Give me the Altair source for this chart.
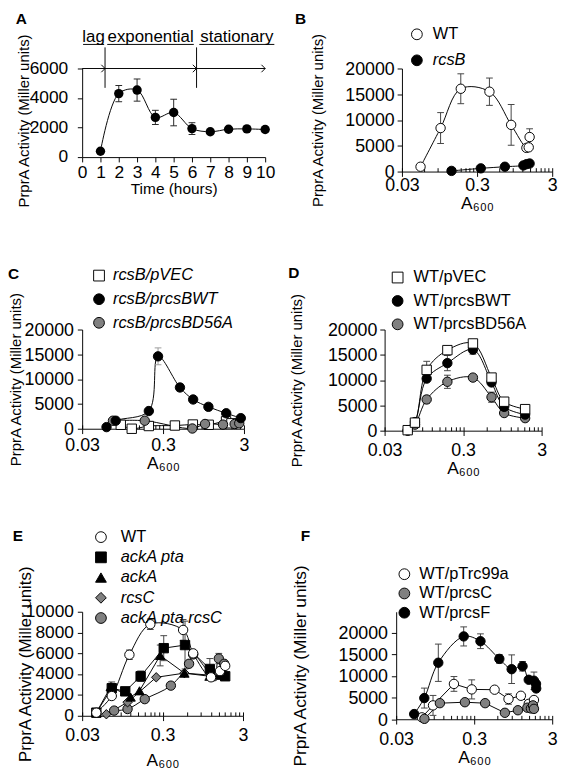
import altair as alt
import pandas as pd

FONT = "Liberation Sans"
Y_TITLE = "PrprA Activity (Miller units)"
A600 = "A₆₀₀"
PANEL_LETTERS = ["A", "B", "C", "D", "E", "F"]

# ---------------- Panel A : time course ----------------
A_time = [1, 2, 3, 4, 5, 6, 7, 8, 9, 10]
A_activity = [400, 4300, 4540, 2690, 3020, 1930, 1720, 1890, 1910, 1870]
A_error = [0, 550, 750, 480, 900, 400, 0, 0, 0, 0]
A_ticks = [0, 1, 2, 3, 4, 5, 6, 7, 8, 9, 10]
A_phase_names = ["lag", "exponential", "stationary"]
A_phase_mid = [0.62, 3.74, 8.45]
A_phase_start = [0.05, 1.37, 6.4]
A_phase_end = [1.2, 6.1, 10.5]
A_phase_breaks = [1.25, 6.25]
A_arrow_tips = [1.25, 6.25, 10]
A_arrow_span = [0, 10]
A_label_level = 7820
A_underline_level = 7630
A_break_range = [4690, 7430]
A_arrow_level = 6000

# ---------------- Panel B ----------------
B_series = ["WT", "rcsB"]
B_WT_x = [0.053, 0.098, 0.182, 0.438, 0.852, 1.36, 1.46, 1.50]
B_WT_y = [940, 8440, 16070, 15500, 9060, 4600, 4700, 6700]
B_WT_err = [0, 3000, 2900, 2650, 3950, 0, 0, 1600]
B_rcsB_x = [0.137, 0.336, 0.703, 1.24, 1.37, 1.50]
B_rcsB_y = [130, 625, 940, 1190, 1440, 1560]

# ---------------- Panel C ----------------
C_series = ["rcsB/pVEC", "rcsB/prcsBWT", "rcsB/prcsBD56A"]
C_pVEC_x = [0.09, 0.123, 0.2, 0.42, 0.7, 1.1, 1.8, 2.1]
C_pVEC_y = [800, 0, 550, 650, 850, 800, 1500, 1100]
C_WT_x = [0.06, 0.078, 0.2, 0.26, 0.485, 0.706, 1.09, 1.81, 2.74]
C_WT_y = [330, 1620, 3570, 14600, 8320, 5900, 4420, 3120, 2140]
C_WT_err = [0, 0, 0, 1700, 700, 0, 0, 0, 0]
C_D56A_x = [0.072, 0.178, 0.69, 0.99, 1.65, 2.3, 2.62]
C_D56A_y = [1620, 1620, 50, 965, 835, 965, 1100]

# ---------------- Panel D ----------------
D_series = ["WT/pVEC", "WT/prcsBWT", "WT/prcsBD56A"]
D_x = [0.059, 0.073, 0.103, 0.189, 0.40, 0.69, 1.0, 1.85]
D_pVEC_y = [100, 1590, 12020, 15930, 17250, 10500, 5730, 4260]
D_pVEC_err = [0, 0, 1700, 0, 0, 800, 0, 0]
D_WT_y = [50, 1700, 10300, 13360, 16030, 9540, 4710, 3180]
D_WT_err = [0, 0, 0, 1500, 900, 0, 0, 0]
D_D56A_y = [0, 1200, 6170, 9670, 10500, 6620, 3490, 2480]
D_D56A_err = [0, 0, 700, 1300, 0, 1000, 0, 0]

# ---------------- Panel E ----------------
E_series = ["WT", "ackA pta", "ackA", "rcsC", "ackA pta rcsC"]
E_WT_x = [0.045, 0.07, 0.116, 0.211, 0.54, 0.72, 1.2, 1.55, 1.8]
E_WT_y = [300, 1900, 5870, 8800, 8250, 6000, 3700, 4300, 4800]
E_WT_err = [0, 0, 450, 500, 1000, 0, 0, 0, 0]
E_ackApta_x = [0.045, 0.07, 0.103, 0.16, 0.31, 0.57, 1.16, 1.6, 1.8]
E_ackApta_y = [300, 2650, 2350, 3800, 6500, 6800, 4500, 4000, 3800]
E_ackApta_err = [0, 600, 0, 500, 1200, 2300, 1000, 0, 0]
E_ackA_x = [0.045, 0.068, 0.12, 0.155, 0.28, 0.56, 1.15, 1.65]
E_ackA_y = [300, 2800, 1800, 2400, 5800, 4100, 3800, 3900]
E_ackA_err = [0, 0, 0, 0, 1000, 0, 0, 0]
E_rcsC_x = [0.06, 0.11, 0.25, 0.56, 1.2, 1.7]
E_rcsC_y = [150, 1300, 3700, 4100, 3900, 4000]
E_triple_x = [0.075, 0.11, 0.18, 0.38, 0.64, 0.72, 1.3, 1.5, 1.75]
E_triple_y = [500, 650, 1600, 2900, 5000, 5900, 3800, 5500, 5000]
E_triple_err = [0, 0, 0, 0, 0, 0, 0, 500, 0]

# ---------------- Panel F ----------------
F_series = ["WT/pTrc99a", "WT/prcsC", "WT/prcsF"]
F_pTrc_x = [0.064, 0.089, 0.165, 0.279, 0.548, 0.826, 1.19, 1.5, 1.75]
F_pTrc_y = [440, 3200, 8150, 6890, 6820, 4670, 5420, 3560, 4440]
F_pTrc_err = [0, 2300, 1700, 2200, 0, 1200, 0, 0, 0]
F_rcsC_x = [0.069, 0.109, 0.228, 0.414, 0.742, 1.09, 1.44, 1.6, 1.7, 1.75]
F_rcsC_y = [100, 3710, 3930, 3710, 1490, 2080, 2670, 2500, 3200, 2400]
F_rcsF_x = [0.051, 0.0688, 0.104, 0.22, 0.361, 0.63, 0.906, 1.25, 1.5, 1.75, 1.86, 1.87]
F_rcsF_y = [1200, 4890, 13040, 19110, 18000, 13930, 11550, 12220, 9110, 8890, 8150, 7110]
F_rcsF_err = [0, 2300, 4300, 2200, 1700, 1000, 3300, 1100, 0, 2000, 0, 0]

MAJOR = [0.03, 0.3, 3]
MINOR = [0.06, 0.09, 0.12, 0.15, 0.18, 0.21, 0.24, 0.27,
         0.6, 0.9, 1.2, 1.5, 1.8, 2.1, 2.4, 2.7]

INDEP = dict(x="independent", y="independent", fill="independent",
             shape="independent", stroke="independent")
LEG_INDEP = dict(fill="independent", shape="independent", stroke="independent")


def frame(entries):
    rows = []
    for name, xs, ys, errs in entries:
        errs = errs if errs is not None else [0] * len(xs)
        for xv, yv, ev in zip(xs, ys, errs):
            rows.append({"series": name, "x": xv, "y": yv, "e": ev,
                         "lo": yv - ev, "hi": yv + ev})
    return pd.DataFrame(rows)


def letter_layer(letter, lx, ly):
    return alt.Chart(pd.DataFrame({"t": [letter]})).mark_text(
        align="left", baseline="alphabetic", fontSize=16, fontWeight="bold",
        font=FONT, color="black").encode(x=alt.value(lx), y=alt.value(ly), text="t:N")


def y_axis(values, cfg):
    extra = {"titleY": cfg["yty"]} if "yty" in cfg else {}
    return alt.Axis(values=values, format="d", grid=False, labelOverlap=False,
                    tickSize=5, tickColor="black", domainColor="black",
                    labelColor="black", labelFont=FONT, labelFontSize=cfg["ylfs"],
                    labelPadding=cfg["ylp"], title=Y_TITLE, titleFont=FONT,
                    titleFontSize=cfg["ytfs"], titleFontWeight="normal",
                    titleColor="black", titleX=cfg["ytx"], **extra)


def log_panel(df, order, fills, shapes, smooth, straight, italic, cfg):
    xs = alt.Scale(type="log", domain=[0.03, 3], nice=False)
    ys = alt.Scale(domain=cfg["ydom"], nice=False, zero=False)
    y_main = alt.Y("y:Q", scale=ys, axis=y_axis(cfg["yvals"], cfg))
    y_plain = alt.Y("y:Q", scale=ys, axis=None)
    x_main = alt.X("x:Q", scale=xs, axis=alt.Axis(
        values=MAJOR, format="~g", labelFlush=False, labelOverlap=False, grid=False,
        tickSize=5, tickColor="black", domainColor="black", labelColor="black",
        labelFont=FONT, labelFontSize=18.5, labelPadding=cfg["xlp"], title=A600,
        titleFont=FONT, titleFontSize=18, titleFontWeight="normal",
        titleColor="black", titleY=cfg["xty"], titleBaseline="top"))
    x_ticks = alt.X("x:Q", scale=xs, axis=alt.Axis(
        orient="top", offset=-cfg["h"], values=MAJOR + MINOR, labels=False,
        domain=False, grid=False, tickSize=4, tickColor="black", title=None))
    x_plain = alt.X("x:Q", scale=xs, axis=None)

    base = alt.Chart(df)
    layers = []
    first = True
    for group, interp in ((smooth, "catmull-rom"), (straight, "linear")):
        if group:
            layers.append(
                base.transform_filter(alt.FieldOneOfPredicate(field="series", oneOf=group))
                .mark_line(interpolate=interp, color="black", strokeWidth=1)
                .encode(x=x_main if first else x_plain,
                        y=y_main if first else y_plain,
                        detail="series:N"))
            first = False
    ecol = cfg.get("ecol", "#404040")
    errs = base.transform_filter("datum.e > 0")
    layers.append(errs.mark_rule(color=ecol, strokeWidth=1).encode(
        x=x_plain, y=alt.Y("lo:Q", scale=ys, axis=None), y2="hi:Q"))
    for f in ("lo", "hi"):
        layers.append(errs.mark_tick(orient="horizontal", size=7, thickness=1,
                                     color=ecol, opacity=1).encode(
            x=x_plain, y=alt.Y(f + ":Q", scale=ys, axis=None)))

    ital = "[" + ",".join("'" + s + "'" for s in italic) + "]"
    leg = alt.Legend(title=None, orient="none", legendX=cfg["lx"], legendY=cfg["ly"],
                     padding=0, rowPadding=cfg["rp"], labelOffset=cfg["lo"],
                     labelFont=FONT, labelFontSize=17, labelColor="black",
                     labelLimit=0,
                     labelFontStyle={"expr": "indexof(" + ital + ", datum.label) >= 0 ? 'italic' : 'normal'"},
                     symbolSize=125, symbolStrokeWidth=1, symbolOpacity=1)
    layers.append(base.mark_point(filled=True, size=95, strokeWidth=1, opacity=1).encode(
        x=x_ticks, y=y_plain,
        fill=alt.Fill("series:N", scale=alt.Scale(domain=order, range=fills), legend=leg),
        stroke=alt.Stroke("series:N", scale=alt.Scale(domain=order, range=["#000000"] * len(order)), legend=leg),
        shape=alt.Shape("series:N", scale=alt.Scale(domain=order, range=shapes), legend=leg)))
    layers.append(letter_layer(cfg["letter"], cfg["ltx"], cfg["lty"]))

    return (alt.layer(*layers)
            .properties(width=cfg["w"], height=cfg["h"])
            .resolve_axis(x="independent", y="independent"))


# ---------------- build panel A ----------------
A_df = frame([("A", A_time, A_activity, A_error)])
A_text_df = pd.DataFrame({"x": A_phase_mid, "y": [A_label_level] * 3, "t": A_phase_names})
A_under_df = pd.DataFrame({"x": A_phase_start, "x2": A_phase_end,
                           "y": [A_underline_level] * 3})
A_break_df = pd.DataFrame({"x": A_phase_breaks, "y": [A_break_range[0]] * 2,
                           "y2": [A_break_range[1]] * 2})
A_arrow_df = pd.DataFrame({"x": [A_arrow_span[0]], "x2": [A_arrow_span[1]],
                           "y": [A_arrow_level]})
A_tip_df = pd.DataFrame({"x": A_arrow_tips, "y": [A_arrow_level] * 3})

xA = alt.Scale(domain=[0, 10], nice=False)
yA = alt.Scale(domain=[0, 6000], nice=False)
A_cfg = {"ylfs": 18, "ylp": 10, "ytfs": 15.5, "ytx": -53, "yty": 54}
xA_main = alt.X("x:Q", scale=xA, axis=alt.Axis(
    values=A_ticks, format="d", labelFlush=False, labelOverlap=False,
    grid=False, tickSize=5, tickColor="black", domainColor="black", labelColor="black",
    labelFont=FONT, labelFontSize=18, labelPadding=2, title="Time (hours)",
    titleFont=FONT, titleFontSize=16, titleFontWeight="normal", titleColor="black",
    titleY=25, titleBaseline="top"))
xA_plain = alt.X("x:Q", scale=xA, axis=None)
yA_main = alt.Y("y:Q", scale=yA, axis=y_axis([0, 2000, 4000, 6000], A_cfg))
yA_plain = alt.Y("y:Q", scale=yA, axis=None)

A_base = alt.Chart(A_df)
A_err = A_base.transform_filter("datum.e > 0")
panel_A = alt.layer(
    A_base.mark_line(interpolate="catmull-rom", color="black", strokeWidth=1).encode(
        x=xA_main, y=yA_main),
    A_err.mark_rule(color="#222", strokeWidth=1).encode(
        x=xA_plain, y=alt.Y("lo:Q", scale=yA, axis=None), y2="hi:Q"),
    A_err.mark_tick(orient="horizontal", size=7, thickness=1, color="#222", opacity=1).encode(
        x=xA_plain, y=alt.Y("lo:Q", scale=yA, axis=None)),
    A_err.mark_tick(orient="horizontal", size=7, thickness=1, color="#222", opacity=1).encode(
        x=xA_plain, y=alt.Y("hi:Q", scale=yA, axis=None)),
    A_base.mark_point(filled=True, size=95, color="black", opacity=1).encode(
        x=xA_plain, y=yA_plain),
    alt.Chart(A_arrow_df).mark_rule(color="black", strokeWidth=1).encode(
        x=xA_plain, x2="x2:Q", y=yA_plain),
    alt.Chart(A_tip_df).mark_point(shape="M-1,-1L0,0L-1,1", filled=False, size=60,
                                   stroke="black", strokeWidth=1, opacity=1).encode(
        x=xA_plain, y=yA_plain),
    alt.Chart(A_break_df).mark_rule(color="black", strokeWidth=1).encode(
        x=xA_plain, y=yA_plain, y2="y2:Q"),
    alt.Chart(A_under_df).mark_rule(color="black", strokeWidth=1).encode(
        x=xA_plain, x2="x2:Q", y=yA_plain),
    alt.Chart(A_text_df).mark_text(font=FONT, fontSize=17.5, color="black",
                                   align="center", baseline="alphabetic").encode(
        x=xA_plain, y=yA_plain, text="t:N"),
    letter_layer(PANEL_LETTERS[0], -69, -46),
).properties(width=190, height=92).resolve_axis(x="independent", y="independent")

# ---------------- build panels B-F ----------------
WHITE, BLACK, GRAY = "#ffffff", "#000000", "#808080"

panel_B = log_panel(
    frame([("WT", B_WT_x, B_WT_y, B_WT_err), ("rcsB", B_rcsB_x, B_rcsB_y, None)]),
    B_series, [WHITE, BLACK], ["circle", "circle"], B_series, [], ["rcsB"],
    {"w": 156, "h": 107, "ydom": [0, 20000], "yvals": [0, 5000, 10000, 15000, 20000],
     "ylfs": 18.5, "ylp": 3, "ytfs": 15.5, "ytx": -79, "xlp": 0, "xty": 24.5,
     "lx": 7, "ly": -44, "rp": 9, "lo": 8,
     "letter": PANEL_LETTERS[1], "ltx": -111, "lty": -46})

panel_C = log_panel(
    frame([("rcsB/pVEC", C_pVEC_x, C_pVEC_y, None),
           ("rcsB/prcsBD56A", C_D56A_x, C_D56A_y, None),
           ("rcsB/prcsBWT", C_WT_x, C_WT_y, C_WT_err)]),
    C_series, [WHITE, BLACK, GRAY], ["square", "circle", "circle"], C_series, [],
    C_series,
    {"w": 168, "h": 103, "ydom": [0, 20000], "yvals": [0, 5000, 10000, 15000, 20000],
     "ylfs": 18.5, "ylp": 4, "ytfs": 15.5, "ytx": -61, "xlp": 3, "xty": 27.5,
     "lx": 9, "ly": -64.5, "rp": 6.5, "lo": 6, "ecol": "#999999",
     "letter": PANEL_LETTERS[2], "ltx": -77, "lty": -52})

panel_D = log_panel(
    frame([("WT/prcsBD56A", D_x, D_D56A_y, D_D56A_err),
           ("WT/prcsBWT", D_x, D_WT_y, D_WT_err),
           ("WT/pVEC", D_x, D_pVEC_y, D_pVEC_err)]),
    D_series, [WHITE, BLACK, GRAY], ["square", "circle", "circle"], D_series, [], [],
    {"w": 163, "h": 105, "ydom": [0, 20000], "yvals": [0, 5000, 10000, 15000, 20000],
     "ylfs": 18.5, "ylp": 3, "ytfs": 15.5, "ytx": -83, "xlp": 6, "xty": 30,
     "lx": 5, "ly": -62.5, "rp": 6.3, "lo": 8,
     "letter": PANEL_LETTERS[3], "ltx": -100, "lty": -54})

panel_E = log_panel(
    frame([("ackA pta rcsC", E_triple_x, E_triple_y, E_triple_err),
           ("rcsC", E_rcsC_x, E_rcsC_y, None),
           ("ackA", E_ackA_x, E_ackA_y, E_ackA_err),
           ("ackA pta", E_ackApta_x, E_ackApta_y, E_ackApta_err),
           ("WT", E_WT_x, E_WT_y, E_WT_err)]),
    E_series, [WHITE, BLACK, BLACK, GRAY, GRAY],
    ["circle", "square", "triangle-up", "diamond", "circle"],
    ["WT", "ackA pta rcsC"], ["ackA pta", "ackA", "rcsC"], E_series[1:],
    {"w": 167, "h": 108, "ydom": [0, 10000], "yvals": [0, 2000, 4000, 6000, 8000, 10000],
     "ylfs": 18, "ylp": 4, "ytfs": 17.5, "ytx": -50, "xlp": 6, "xty": 38,
     "lx": 11, "ly": -86, "rp": 3, "lo": 12,
     "letter": PANEL_LETTERS[4], "ltx": -72, "lty": -73})

panel_F = log_panel(
    frame([("WT/pTrc99a", F_pTrc_x, F_pTrc_y, F_pTrc_err),
           ("WT/prcsC", F_rcsC_x, F_rcsC_y, None),
           ("WT/prcsF", F_rcsF_x, F_rcsF_y, F_rcsF_err)]),
    F_series, [WHITE, GRAY, BLACK], ["circle", "circle", "circle"],
    ["WT/prcsF"], ["WT/pTrc99a", "WT/prcsC"], [],
    {"w": 162, "h": 111.6, "ydom": [0, 24800], "yvals": [0, 5000, 10000, 15000, 20000],
     "ylfs": 18.5, "ylp": 4, "ytfs": 18, "ytx": -90, "xlp": 6, "xty": 30.5,
     "lx": 0, "ly": -47.5, "rp": 2, "lo": 7,
     "letter": PANEL_LETTERS[5], "ltx": -99, "lty": -73})

row1 = alt.hconcat(panel_A, panel_B, spacing=20).resolve_scale(**INDEP).resolve_legend(**LEG_INDEP)
row2 = alt.hconcat(panel_C, panel_D, spacing=40).resolve_scale(**INDEP).resolve_legend(**LEG_INDEP)
row3 = alt.hconcat(panel_E, panel_F, spacing=44).resolve_scale(**INDEP).resolve_legend(**LEG_INDEP)

chart = (alt.vconcat(row1, row2, row3, spacing=54)
         .resolve_scale(**INDEP)
         .resolve_legend(**LEG_INDEP)
         .properties(padding={"left": 0, "top": -11, "right": 0, "bottom": 0},
                     background="white")
         .configure_view(stroke=None))

chart.save("out.html", embed_options={"renderer": "svg", "actions": False})
